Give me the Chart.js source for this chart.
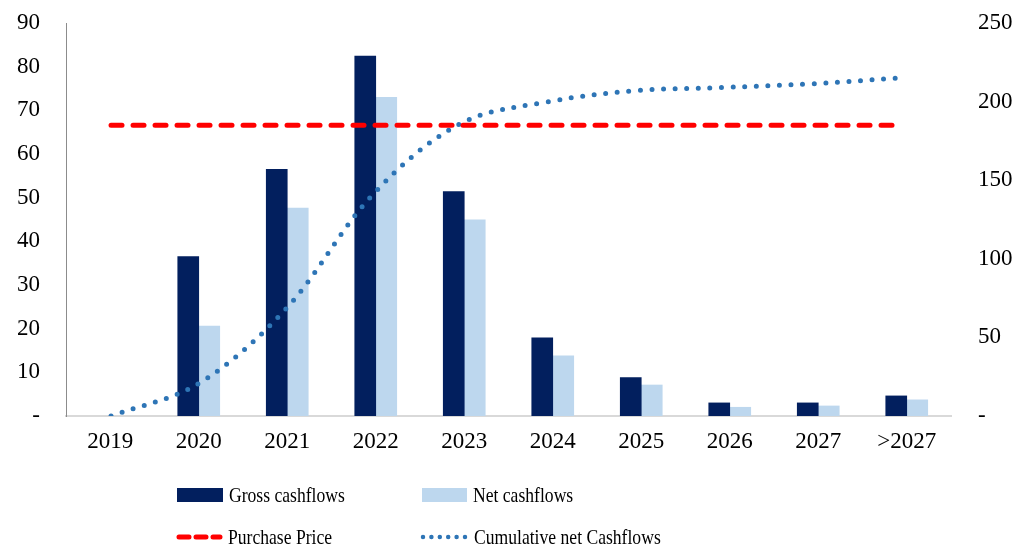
<!DOCTYPE html>
<html>
<head>
<meta charset="utf-8">
<script src="https://cdn.jsdelivr.net/npm/chart.js@4/dist/chart.umd.min.js"></script>
<style>
  html, body { margin: 0; padding: 0; background: #fff; }
  #wrap { position: relative; width: 1018px; height: 547px; }
  #chart { position: absolute; left: 0; top: 0; }
  .item { position: absolute; height: 28px; display: flex; align-items: center; font-family: 'Liberation Serif', 'Times New Roman', serif; font-size: 22px; color: #000; white-space: nowrap; }
  .item svg { flex: none; }
  .item span { display: inline-block; transform: scaleX(0.8); transform-origin: left center; }
</style>
</head>
<body>
<div id="wrap">
  <canvas id="chart" width="1018" height="547"></canvas>
  <div class="item" style="left:177px; top:481px;">
    <svg width="46" height="14"><rect x="0" y="0" width="46" height="14" fill="#021F5E"/></svg>
    <span style="margin-left:6px">Gross cashflows</span>
  </div>
  <div class="item" style="left:422px; top:481px;">
    <svg width="45" height="14"><rect x="0" y="0" width="45" height="14" fill="#BDD7EE"/></svg>
    <span style="margin-left:6px">Net cashflows</span>
  </div>
  <div class="item" style="left:176px; top:523px;">
    <svg width="47" height="8"><line x1="3" y1="4" x2="44" y2="4" stroke="#FF0000" stroke-width="5" stroke-linecap="round" stroke-dasharray="10 7"/></svg>
    <span style="margin-left:5px">Purchase Price</span>
  </div>
  <div class="item" style="left:420px; top:523px;">
    <svg width="48" height="8"><line x1="3" y1="4" x2="46" y2="4" stroke="#2E75B6" stroke-width="4.5" stroke-linecap="round" stroke-dasharray="0 8.4"/></svg>
    <span style="margin-left:6px">Cumulative net Cashflows</span>
  </div>
</div>
<script>
// categories and values (no bars drawn for 2019)
const years = ['2019', '2020', '2021', '2022', '2023', '2024', '2025', '2026', '2027', '>2027'];
const grossCashflows = [null, 36.5, 56.5, 82.4, 51.4, 17.9, 8.8, 3.0, 3.0, 4.6];
const netCashflows = [null, 20.6, 47.6, 73.0, 44.9, 13.8, 7.1, 2.0, 2.3, 3.7];
const purchasePrice = [66.6, 66.6, 66.6, 66.6, 66.6, 66.6, 66.6, 66.6, 66.6, 66.6];
const cumulativeNet = [0, 20.6, 68.2, 141.2, 186.1, 199.9, 207.0, 209.0, 211.3, 215.0];
const leftTicks = [0, 10, 20, 30, 40, 50, 60, 70, 80, 90];
const rightTicks = [0, 50, 100, 150, 200, 250];

const serif = "'Liberation Serif', 'Times New Roman', serif";
const asPoints = arr => arr.map((v, i) => ({ x: i, y: v }));
const dashLabel = v => (v === 0 ? '-' : v);
// fixed axis widths so the plot area lands where the original has it
const fixY = w => s => { s.width = w; s.paddingTop = 0; s.paddingBottom = 0; };

new Chart(document.getElementById('chart'), {
    type: 'bar',
    data: {
        labels: years,
        datasets: [
            {
                label: 'Purchase Price',
                type: 'line',
                data: asPoints(purchasePrice),
                xAxisID: 'xl',
                yAxisID: 'y',
                borderColor: '#FF0000',
                borderWidth: 5,
                borderDash: [11, 11],
                borderCapStyle: 'round',
                pointRadius: 0,
                order: 0
            },
            {
                label: 'Cumulative net Cashflows',
                type: 'line',
                data: asPoints(cumulativeNet),
                xAxisID: 'xl',
                yAxisID: 'y1',
                borderColor: '#2E75B6',
                borderWidth: 5,
                borderDash: [0, 11.6],
                borderCapStyle: 'round',
                pointRadius: 0,
                tension: 0.35,
                order: 0
            },
            {
                label: 'Gross cashflows',
                data: grossCashflows,
                xAxisID: 'x',
                yAxisID: 'y',
                backgroundColor: '#021F5E',
                barThickness: 21,
                order: 1
            },
            {
                label: 'Net cashflows',
                data: netCashflows,
                xAxisID: 'x',
                yAxisID: 'y',
                backgroundColor: '#BDD7EE',
                barThickness: 21,
                order: 1
            }
        ]
    },
    options: {
        responsive: false,
        animation: false,
        layout: { autoPadding: false, padding: { top: 23, bottom: 81, left: 0, right: 0 } },
        plugins: {
            legend: { display: false },
            tooltip: { enabled: false }
        },
        scales: {
            x: {
                grid: { display: false, drawTicks: false },
                border: { display: true, color: '#D9D9D9', width: 2 },
                ticks: { color: '#000', font: { family: serif, size: 23 }, padding: 12, maxRotation: 0, autoSkip: false },
                afterFit: s => { s.height = 50; }
            },
            // hidden axis for the two lines (the original plots them slightly inset)
            xl: {
                type: 'linear',
                display: false,
                offset: false,
                min: -0.515,
                max: 9.607
            },
            y: {
                position: 'left',
                min: 0,
                max: 90,
                afterBuildTicks: s => { s.ticks = leftTicks.map(v => ({ value: v })); },
                grid: { display: false, drawTicks: false },
                border: { display: true, color: '#8C8C8C', width: 1 },
                ticks: { color: '#000', font: { family: serif, size: 23 }, padding: 26, callback: dashLabel },
                afterFit: fixY(66)
            },
            y1: {
                position: 'right',
                min: 0,
                max: 250,
                afterBuildTicks: s => { s.ticks = rightTicks.map(v => ({ value: v })); },
                grid: { display: false, drawTicks: false },
                border: { display: false },
                ticks: { color: '#000', font: { family: serif, size: 23 }, padding: 27, callback: dashLabel },
                afterFit: fixY(67)
            }
        }
    }
});
</script>
</body>
</html>
